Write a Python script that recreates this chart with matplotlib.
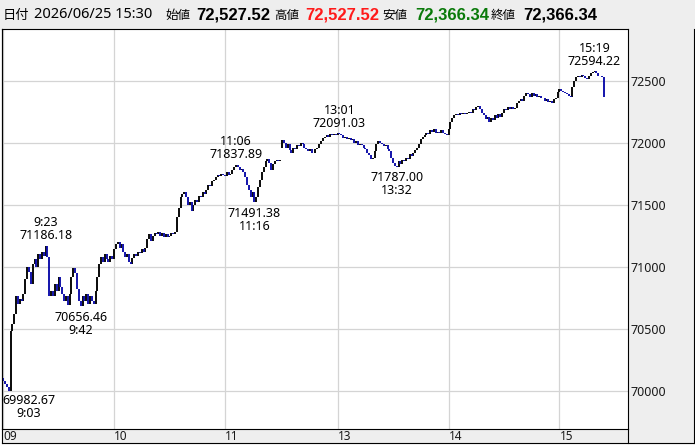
import numpy as np
import matplotlib.pyplot as plt
from matplotlib.patches import Rectangle
from matplotlib.lines import Line2D

plt.rcParams['font.family'] = ['Noto Sans', 'Noto Sans CJK JP', 'DejaVu Sans']

# 1-minute closes, 9:00-11:30 then 12:30-15:30 (lunch break removed)
am_open = 70105
pm_open = 71960
pm_start = 151
closes = [
    70080, 70050, 70030, 69995, 70480, 70540, 70620, 70760, 70700, 70740,
    70720, 70780, 70900, 71000, 70960, 70860, 71020, 71060, 71000, 71100,
    71060, 71120, 71090, 71170, 71080, 70760, 70800, 70760, 70860, 70800,
    70920, 70840, 70780, 70720, 70760, 70690, 70780, 70920, 70990, 70950,
    70820, 70720, 70680, 70760, 70720, 70780, 70700, 70760, 70720, 70700,
    70800, 70920, 71020, 71080, 71040, 71100, 71060, 71040, 71090, 71060,
    71140, 71180, 71200, 71150, 71180, 71120, 71080, 71100, 71040, 71020,
    71070, 71100, 71090, 71120, 71110, 71140, 71120, 71150, 71220, 71260,
    71210, 71250, 71270, 71260, 71280, 71250, 71270, 71240, 71260, 71240,
    71250, 71270, 71260, 71280, 71400, 71470, 71560, 71590, 71600, 71560,
    71500, 71520, 71450, 71500, 71540, 71520, 71570, 71560, 71600, 71590,
    71620, 71660, 71650, 71690, 71700, 71720, 71740, 71730, 71750, 71740,
    71730, 71760, 71740, 71750, 71780, 71800, 71820, 71800, 71780, 71790,
    71760, 71720, 71660, 71620, 71560, 71600, 71520, 71560, 71640, 71700,
    71760, 71800, 71850, 71870, 71840, 71780, 71830, 71850, 71860, 71850,
    71860, 72020, 72000, 71960, 71990, 71940, 71920, 71960, 71950, 71980,
    71970, 72000, 71990, 71960, 71950, 71930, 71950, 71920, 71915, 71950,
    71960, 71990, 72010, 72040, 72050, 72060, 72050, 72070, 72060, 72070,
    72060, 72080, 72070, 72060, 72040, 72050, 72030, 72040, 72020, 72030,
    72000, 72010, 71980, 71990, 71980, 71960, 71950, 71920, 71900, 71870,
    71880, 71930, 71990, 72010, 72000, 71990, 71970, 71980, 71950, 71930,
    71880, 71840, 71810, 71800, 71850, 71830, 71860, 71850, 71880, 71870,
    71910, 71890, 71920, 71940, 71960, 71990, 72030, 72050, 72060, 72080,
    72070, 72100, 72090, 72110, 72080, 72090, 72080, 72100, 72080, 72070,
    72060, 72110, 72170, 72200, 72220, 72230, 72220, 72240, 72230, 72240,
    72230, 72240, 72250, 72240, 72270, 72260, 72290, 72300, 72270, 72240,
    72220, 72190, 72210, 72170, 72200, 72180, 72220, 72200, 72230, 72210,
    72240, 72270, 72260, 72290, 72270, 72290, 72270, 72280, 72320, 72340,
    72350, 72340, 72380, 72400, 72390, 72370, 72400, 72380, 72390, 72370,
    72380, 72360, 72360, 72340, 72350, 72330, 72340, 72320, 72350, 72360,
    72410, 72430, 72420, 72410, 72400, 72390, 72380, 72370, 72450, 72500,
    72530, 72540, 72530, 72550, 72540, 72520, 72510, 72540, 72560, 72570,
    72580, 72560, 72540, 72540, 72527.52, 72366.34,
]

tick_pos = [0, 60, 120, 181, 241, 301]
tick_labels = ['09', '10', '11', '13', '14', '15']
y_ticks = [70000, 70500, 71000, 71500, 72000, 72500]

# (bar index, price, time, above/below)
marks = [
    (3, 69982.67, '9:03', 'low'),
    (23, 71186.18, '9:23', 'high'),
    (42, 70656.46, '9:42', 'low'),
    (126, 71837.89, '11:06', 'high'),
    (136, 71491.38, '11:16', 'low'),
    (182, 72091.03, '13:01', 'high'),
    (213, 71787.00, '13:32', 'low'),
    (320, 72594.22, '15:19', 'high'),
]

header_date = '2026/06/25 15:30'
ohlc_names = ['始値', '高値', '安値', '終値']
ohlc_vals = ['72,527.52', '72,527.52', '72,366.34', '72,366.34']
ohlc_colors = ['#000000', '#ff1a1a', '#0a7a0a', '#000000']

W, H = 695, 448
fig = plt.figure(figsize=(W / 100, H / 100), dpi=100)
fig.patch.set_facecolor('white')
px = lambda x: x / W
py = lambda y: 1 - y / H

# grey header, right scale panel and bottom time band
panel = '#eeeeee'
fig.patches.append(Rectangle((0, py(29)), 1, 29 / H, transform=fig.transFigure, color=panel, zorder=-5))
fig.patches.append(Rectangle((px(628), py(443)), px(694) - px(628), (443 - 29) / H,
                             transform=fig.transFigure, color=panel, zorder=-5))
fig.patches.append(Rectangle((px(2), py(443)), px(694) - px(2), 14 / H,
                             transform=fig.transFigure, color=panel, zorder=-5))
for seg in [((2, 694), (443, 443)), ((694, 694), (29, 443)), ((2, 2), (29, 443)), ((628, 628), (429, 443))]:
    fig.add_artist(Line2D([px(seg[0][0]), px(seg[0][1])], [py(seg[1][0]), py(seg[1][1])],
                          color='black', lw=0.8, transform=fig.transFigure))

ax = fig.add_axes([px(2), py(429), px(628) - px(2), (429 - 29) / H])
ax.set_facecolor('white')

c = np.array(closes, dtype=float)
o = np.concatenate([[am_open], c[:-1]])
o[pm_start] = pm_open
x = np.arange(len(c))
up = c >= o
ax.vlines(x[up], o[up], c[up], color='#000000', lw=1.35, zorder=3)
ax.vlines(x[~up], o[~up], c[~up], color='#0a0aa8', lw=1.35, zorder=3)

ax.set_xlim(-0.6, 338.1)
ax.set_ylim(69691, 72917)
ax.set_xticks(tick_pos)
ax.set_xticklabels(tick_labels, ha='left', fontsize=8.5)
ax.set_yticks(y_ticks)
ax.set_yticklabels([str(v) for v in y_ticks], fontsize=9)
ax.yaxis.tick_right()
ax.tick_params(axis='both', length=0, colors='#1a1a1a')
ax.tick_params(axis='x', pad=1)
ax.tick_params(axis='y', pad=1.5)
ax.grid(True, color='#d4d4d4', lw=0.9, zorder=0)
for s in ax.spines.values():
    s.set_color('black')
    s.set_linewidth(0.8)

for idx, val, t, kind in marks:
    ha = 'center'
    xi = idx
    if idx < 10:
        ha, xi = 'left', -0.6
    if kind == 'high':
        ax.annotate(f'{t}\n{val:.2f}', (xi, val), xytext=(0, 1), textcoords='offset points',
                    ha=ha, va='bottom', fontsize=9, linespacing=1.0, multialignment='center')
    else:
        ax.annotate(f'{val:.2f}\n{t}', (xi, val), xytext=(0, -1), textcoords='offset points',
                    ha=ha, va='top', fontsize=9, linespacing=1.0, multialignment='center')

# header line
yh = py(15)
fig.text(px(3), yh, '日付', fontsize=9.5, family='Noto Sans CJK JP', va='center')
fig.text(px(34), yh, header_date, fontsize=10.5, va='center')
name_x = [165, 274, 382, 491]
val_x = [196, 305, 415, 523]
for nm, v, col, nx, vx in zip(ohlc_names, ohlc_vals, ohlc_colors, name_x, val_x):
    fig.text(px(nx), yh, nm, fontsize=9, family='Noto Sans CJK JP', va='center')
    fig.text(px(vx), yh, v, fontsize=12, fontweight='bold', family='Liberation Sans',
             color=col, va='center')

fig.savefig('out.png', dpi=100)
